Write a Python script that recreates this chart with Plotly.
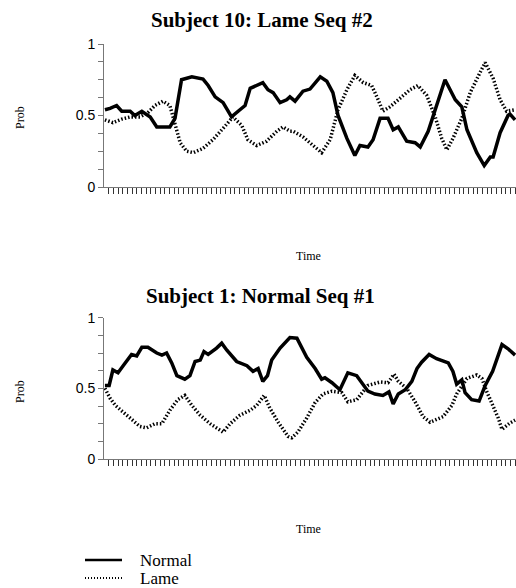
import plotly.graph_objects as go

# ---------------- data (time step, probability) ----------------
top_title = "Subject 10: Lame Seq #2"
bottom_title = "Subject 1: Normal Seq #1"
series_names = ["Normal", "Lame"]

top_normal_t = [0.2, 1.3, 2.7, 3.8, 5.6, 6.6, 8.1, 9.9, 11.3, 14.1, 15.2, 16.6, 18.8, 21.2, 22.3, 23.8,
                25.5, 27.3, 29.1, 30.2, 31.3, 32.7, 34.0, 35.1, 36.2, 37.7, 39.1, 39.8, 40.9, 42.6, 44.1,
                46.3, 47.7, 49.0, 50.1, 52.0, 53.7, 54.8, 56.5, 57.6, 59.1, 60.8, 61.9, 63.0, 64.8, 66.6,
                67.7, 69.4, 71.2, 73.0, 75.2, 76.6, 77.7, 79.8, 81.4, 82.7, 83.3, 84.8, 86.5, 86.9, 88.0]
top_normal_p = [0.54, 0.55, 0.57, 0.53, 0.53, 0.50, 0.53, 0.49, 0.42, 0.42, 0.48, 0.75, 0.77, 0.755, 0.71, 0.63,
                0.59, 0.49, 0.54, 0.57, 0.69, 0.71, 0.73, 0.68, 0.66, 0.59, 0.61, 0.63, 0.60, 0.67, 0.685,
                0.77, 0.74, 0.66, 0.50, 0.34, 0.22, 0.29, 0.28, 0.33, 0.48, 0.48, 0.40, 0.42, 0.32, 0.31,
                0.28, 0.39, 0.57, 0.75, 0.61, 0.56, 0.40, 0.24, 0.15, 0.21, 0.21, 0.38, 0.50, 0.51, 0.47]

top_lame_t = [0.2, 1.9, 3.8, 5.6, 7.7, 9.4, 10.9, 12.6, 14.1, 15.2, 16.3, 17.7, 19.1, 21.2, 23.3, 25.5,
              27.6, 29.5, 30.8, 32.7, 34.8, 37.0, 38.3, 39.8, 40.5, 42.6, 44.8, 46.6, 48.4, 50.1, 52.0,
              53.7, 55.5, 57.3, 58.7, 59.7, 61.2, 63.4, 65.5, 67.2, 69.1, 70.9, 72.3, 73.4, 74.7, 76.6,
              78.4, 80.5, 81.6, 83.3, 84.8, 86.2, 88.0]
top_lame_p = [0.47, 0.45, 0.475, 0.49, 0.49, 0.52, 0.57, 0.60, 0.57, 0.45, 0.31, 0.25, 0.24, 0.27, 0.33, 0.41,
              0.49, 0.43, 0.33, 0.29, 0.32, 0.39, 0.42, 0.39, 0.39, 0.35, 0.29, 0.24, 0.33, 0.54, 0.68,
              0.78, 0.73, 0.71, 0.61, 0.53, 0.56, 0.62, 0.68, 0.71, 0.64, 0.49, 0.34, 0.26, 0.34, 0.48,
              0.66, 0.80, 0.87, 0.76, 0.61, 0.53, 0.54]

bot_normal_t = [0.2, 1.1, 1.9, 3.0, 4.1, 5.9, 7.0, 8.1, 9.4, 11.3, 12.4, 13.4, 14.5, 15.6, 17.3, 18.4,
                19.5, 20.6, 21.4, 22.3, 24.1, 25.2, 26.3, 28.4, 30.6, 31.9, 33.0, 34.0, 35.0, 35.9, 37.7,
                39.8, 41.3, 43.4, 45.2, 46.6, 47.3, 48.8, 50.5, 52.2, 54.1, 56.5, 58.0, 59.7, 61.0, 61.9,
                63.0, 64.5, 65.9, 67.0, 68.0, 69.6, 71.2, 73.7, 74.7, 75.5, 76.6, 77.3, 78.7, 80.3, 81.6,
                83.2, 85.2, 86.5, 88.0]
bot_normal_p = [0.52, 0.52, 0.63, 0.61, 0.66, 0.74, 0.73, 0.79, 0.79, 0.75, 0.735, 0.75, 0.68, 0.59, 0.565, 0.59,
                0.69, 0.70, 0.76, 0.74, 0.785, 0.82, 0.77, 0.69, 0.66, 0.62, 0.64, 0.55, 0.59, 0.70, 0.785,
                0.86, 0.855, 0.72, 0.64, 0.565, 0.575, 0.54, 0.49, 0.61, 0.59, 0.48, 0.46, 0.45, 0.475, 0.39,
                0.46, 0.49, 0.55, 0.64, 0.685, 0.74, 0.71, 0.68, 0.62, 0.53, 0.56, 0.47, 0.42, 0.41, 0.52,
                0.62, 0.81, 0.78, 0.735]

bot_lame_t = [0.2, 1.3, 2.4, 4.1, 5.9, 7.7, 9.1, 10.9, 12.4, 14.1, 15.8, 17.3, 18.8, 20.6, 22.7, 24.1,
              25.5, 27.0, 29.1, 31.3, 32.7, 34.3, 35.5, 37.3, 39.4, 40.2, 41.5, 43.4, 45.2, 46.9, 48.8,
              50.9, 52.2, 54.1, 56.5, 59.1, 60.8, 62.1, 63.0, 64.8, 66.6, 68.3, 69.8, 72.6, 74.5, 75.5,
              77.7, 79.8, 80.9, 81.9, 83.3, 84.4, 85.2, 86.9, 88.0]
bot_lame_p = [0.50, 0.43, 0.38, 0.33, 0.275, 0.23, 0.22, 0.25, 0.25, 0.345, 0.42, 0.45, 0.38, 0.31, 0.25, 0.22,
              0.19, 0.25, 0.31, 0.345, 0.38, 0.45, 0.36, 0.26, 0.16, 0.15, 0.19, 0.29, 0.40, 0.46, 0.48,
              0.47, 0.405, 0.42, 0.52, 0.545, 0.54, 0.60, 0.55, 0.50, 0.405, 0.30, 0.26, 0.30, 0.38, 0.46,
              0.57, 0.595, 0.57, 0.48, 0.38, 0.29, 0.21, 0.255, 0.275]

y_tick_vals = [0, 0.125, 0.25, 0.375, 0.5, 0.625, 0.75, 0.875, 1]
y_tick_text = ["0", "", "", "", "0.5", "", "", "", "1"]
x_tick_vals = list(range(1, 89))

# ---------------- figure ----------------
W, H = 516, 588
SERIF = "Liberation Serif, Times New Roman, serif"
SANS = "Liberation Sans, Arial, sans-serif"

normal_line = dict(color="black", width=3.5)
lame_line = dict(color="black", width=3.5, dash="1.5px,2px")

fig = go.Figure()
fig.add_trace(go.Scatter(x=top_normal_t, y=top_normal_p, mode="lines", name=series_names[0],
                         line=normal_line, xaxis="x", yaxis="y"))
fig.add_trace(go.Scatter(x=top_lame_t, y=top_lame_p, mode="lines", name=series_names[1],
                         line=lame_line, xaxis="x", yaxis="y"))
fig.add_trace(go.Scatter(x=bot_normal_t, y=bot_normal_p, mode="lines", name=series_names[0],
                         line=normal_line, xaxis="x2", yaxis="y2"))
fig.add_trace(go.Scatter(x=bot_lame_t, y=bot_lame_p, mode="lines", name=series_names[1],
                         line=lame_line, xaxis="x2", yaxis="y2"))

def ydom(top_px, bottom_px):
    return [1 - bottom_px / H, 1 - top_px / H]

xcommon = dict(range=[0, 88.2], domain=[104 / W, 1], showgrid=False, zeroline=False,
               showline=True, linecolor="#777", linewidth=1,
               tickmode="array", tickvals=x_tick_vals, showticklabels=False,
               ticks="outside", ticklen=6, tickwidth=1, tickcolor="#333")
ycommon = dict(range=[0, 1], showgrid=False, zeroline=False, showline=True,
               linecolor="#777", linewidth=1, tickmode="array", tickvals=y_tick_vals,
               ticktext=y_tick_text, ticks="outside", ticklen=5, tickwidth=1, tickcolor="#777",
               tickfont=dict(family=SANS, size=14, color="black"))

fig.update_layout(
    width=W, height=H, margin=dict(l=0, r=0, t=0, b=0, autoexpand=False),
    plot_bgcolor="white", paper_bgcolor="white",
    xaxis=dict(**xcommon, anchor="y"),
    yaxis=dict(**ycommon, domain=ydom(44, 187), anchor="x"),
    xaxis2=dict(**xcommon, anchor="y2"),
    yaxis2=dict(**ycommon, domain=ydom(317.7, 459), anchor="x2"),
    showlegend=False,
)

annos = [
    dict(text="<b>" + top_title + "</b>", x=262 / W, y=1 - 20 / H),
    dict(text="<b>" + bottom_title + "</b>", x=260 / W, y=1 - 296 / H),
]
for a in annos:
    fig.add_annotation(xref="paper", yref="paper", xanchor="center", yanchor="middle",
                       showarrow=False, font=dict(family=SERIF, size=21, color="black"), **a)

for ypx in (118, 392):
    fig.add_annotation(text="Prob", xref="paper", yref="paper", x=20 / W, y=1 - ypx / H,
                       textangle=-90, showarrow=False, xanchor="center", yanchor="middle",
                       font=dict(family=SERIF, size=12, color="black"))
for ypx in (256, 529):
    fig.add_annotation(text="Time", xref="paper", yref="paper", x=308 / W, y=1 - ypx / H,
                       showarrow=False, xanchor="center", yanchor="middle",
                       font=dict(family=SERIF, size=12, color="black"))

# ---- legend (key drawn as swatches + labels) ----
legend_rows = [(series_names[0], 560, dict(color="black", width=2.5)),
               (series_names[1], 578, dict(color="black", width=2, dash="1px,2px"))]
for name, ypx, ln in legend_rows:
    fig.add_shape(type="line", xref="paper", yref="paper",
                  x0=85 / W, x1=122 / W, y0=1 - ypx / H, y1=1 - ypx / H, line=ln)
    fig.add_annotation(text=name, xref="paper", yref="paper", x=138 / W, y=1 - ypx / H,
                       xanchor="left", yanchor="middle", showarrow=False,
                       font=dict(family=SERIF, size=17, color="black"))

fig.write_html("out.html")
